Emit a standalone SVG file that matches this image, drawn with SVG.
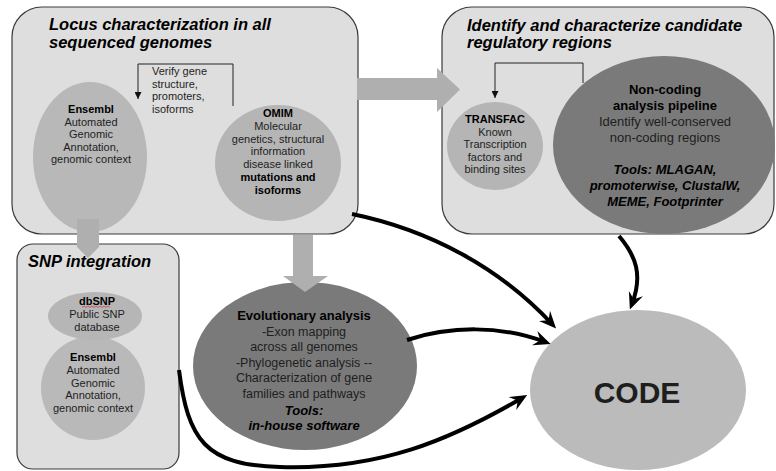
<svg xmlns="http://www.w3.org/2000/svg" width="776" height="471" viewBox="0 0 776 471">
<style>
.box{fill:#dedede;stroke:#3a3a3a;stroke-width:1.2}
.lt{fill:#b8b8b8}
.dk{fill:#7a7a7a}
.garrow{fill:#afafaf}
.curve{fill:none;stroke:#000;stroke-width:4}
.thin{fill:none;stroke:#222;stroke-width:1}
text{font-family:"Liberation Sans",Arial,sans-serif;fill:#1e1e1e}
.title{font-size:16.5px;font-weight:bold;font-style:italic;fill:#000}
.s11{font-size:11px;text-anchor:middle}
.s13{font-size:13px;text-anchor:middle}
.s125{font-size:12.5px;text-anchor:middle}
.b{font-weight:bold;fill:#000}
.bi{font-weight:bold;font-style:italic;fill:#000}
</style>
<defs>
<marker id="ah" viewBox="-17 -8 17 16" refX="-6" refY="0" markerWidth="17" markerHeight="16" markerUnits="userSpaceOnUse" orient="auto"><path d="M0,0 L-17,-7.5 L-11,0 L-17,7.5 Z" fill="#000"/></marker>
<marker id="sh" viewBox="0 0 8 8" refX="8" refY="4" markerWidth="7" markerHeight="7" markerUnits="userSpaceOnUse" orient="auto"><path d="M0,0 L8,4 L0,8 Z" fill="#111"/></marker>
</defs>
<rect width="776" height="471" fill="#fff"/>

<g id="locus-box">
<rect class="box" x="12" y="7" width="346" height="227" rx="30"/>
<text class="title" x="49" y="30">Locus characterization in all</text>
<text class="title" x="49" y="48">sequenced genomes</text>
</g>

<g id="ensembl-top">
<ellipse class="lt" cx="90" cy="157" rx="57" ry="75"/>
<text class="s11" x="91" y="113"><tspan class="b">Ensembl</tspan><tspan x="91" dy="12.5">Automated</tspan><tspan x="91" dy="12.5">Genomic</tspan><tspan x="91" dy="12.5">Annotation,</tspan><tspan x="91" dy="12.5">genomic context</tspan></text>
</g>

<g id="omim">
<ellipse cx="278" cy="163" rx="63" ry="58" fill="#b5b5b5"/>
<text class="s11" x="278" y="117"><tspan class="b">OMIM</tspan><tspan x="278" dy="12.8">Molecular</tspan><tspan x="278" dy="12.8">genetics, structural</tspan><tspan x="278" dy="12.8">information</tspan><tspan x="278" dy="12.8">disease linked</tspan><tspan x="278" dy="12.8" class="b">mutations and</tspan><tspan x="278" dy="12.8" class="b">isoforms</tspan></text>
</g>

<g id="verify-label">
<text font-size="11" x="152" y="75">Verify gene<tspan x="152" dy="12.7">structure,</tspan><tspan x="152" dy="12.7">promoters,</tspan><tspan x="152" dy="12.7">isoforms</tspan></text>
</g>

<g id="regulatory-box">
<rect class="box" x="442" y="7" width="332" height="227" rx="30"/>
<text class="title" x="467" y="31">Identify and characterize candidate</text>
<text class="title" x="467" y="48">regulatory regions</text>
</g>

<g id="transfac">
<ellipse cx="495" cy="146" rx="48" ry="44" fill="#b5b5b5"/>
<text class="s11" x="495" y="123"><tspan class="b">TRANSFAC</tspan><tspan x="495" dy="12.6">Known</tspan><tspan x="495" dy="12.6">Transcription</tspan><tspan x="495" dy="12.6">factors and</tspan><tspan x="495" dy="12.6">binding sites</tspan></text>
</g>

<g id="noncoding">
<ellipse class="dk" cx="664" cy="145" rx="111" ry="89"/>
<text class="s13" x="665" y="94"><tspan class="b">Non-coding</tspan><tspan x="665" dy="16" class="b">analysis pipeline</tspan><tspan x="665" dy="16">Identify well-conserved</tspan><tspan x="665" dy="16">non-coding regions</tspan><tspan x="665" dy="32" class="bi">Tools: MLAGAN,</tspan><tspan x="665" dy="16" class="bi">promoterwise, ClustalW,</tspan><tspan x="665" dy="16" class="bi">MEME, Footprinter</tspan></text>
</g>

<g id="snp-box">
<rect class="box" x="17" y="244" width="162" height="225" rx="16"/>
<text class="title" x="28" y="267">SNP integration</text>
</g>

<g id="ensembl-snp">
<ellipse cx="93" cy="388" rx="52" ry="52" fill="#b9b9b9"/>
<text class="s11" x="93" y="361"><tspan class="b">Ensembl</tspan><tspan x="93" dy="12.8">Automated</tspan><tspan x="93" dy="12.8">Genomic</tspan><tspan x="93" dy="12.8">Annotation,</tspan><tspan x="93" dy="12.8">genomic context</tspan></text>
</g>

<g id="dbsnp">
<ellipse cx="95" cy="316" rx="47" ry="24" fill="#b6b6b6"/>
<text class="s11" x="97" y="305"><tspan class="b">dbSNP</tspan><tspan x="97" dy="12.8">Public SNP</tspan><tspan x="97" dy="12.8">database</tspan></text>
<path d="M82,307.5 l2,-1.5 l2,1.5 l2,-1.5 l2,1.5 l2,-1.5 l2,1.5 l2,-1.5 l2,1.5 l2,-1.5 l2,1.5 l2,-1.5 l2,1.5 l2,-1.5 l2,1.5" fill="none" stroke="#d04040" stroke-width="0.8"/>
</g>

<g id="evolutionary">
<ellipse class="dk" cx="305" cy="366" rx="112" ry="84"/>
<text class="s125" x="304" y="320"><tspan class="b" font-size="13">Evolutionary analysis</tspan><tspan x="304" dy="15.5">-Exon mapping</tspan><tspan x="304" dy="15.5">across all genomes</tspan><tspan x="304" dy="15.5">-Phylogenetic analysis --</tspan><tspan x="304" dy="15.5">Characterization of gene</tspan><tspan x="304" dy="15.5">families and pathways</tspan><tspan x="304" dy="17" class="bi" font-size="13">Tools:</tspan><tspan x="304" dy="15.5" class="bi" font-size="13">in-house software</tspan></text>
</g>

<g id="code">
<ellipse cx="638" cy="390" rx="108" ry="80" fill="#bbbbbb"/>
<text x="637" y="403" font-family="'DejaVu Sans',Verdana,sans-serif" font-size="30" font-weight="bold" text-anchor="middle" fill="#000">CODE</text>
</g>

<g id="connectors">
<polygon class="garrow" points="357,78 437,78 437,68 460,89.5 437,112 437,100 357,100"/>
<polygon class="garrow" points="77,219 99,219 99,247 88,258 77,247"/>
<polygon class="garrow" points="293,235 313,235 313,276 328,276 305,292 283,276 293,276"/>
<path class="thin" d="M233,106 V64 H138 V99" marker-end="url(#sh)"/>
<path class="thin" d="M583,83 V63 H495 V98" marker-end="url(#sh)"/>
<path class="curve" d="M352,214 C430,230 500,268 552,324" marker-end="url(#ah)"/>
<path class="curve" d="M619,236 C636,256 643,275 632,304" marker-end="url(#ah)"/>
<path class="curve" d="M407,340 C450,326 500,325 545,342" marker-end="url(#ah)"/>
<path class="curve" d="M179,370 C188,440 205,465 280,467 C380,470 450,440 522,398" marker-end="url(#ah)"/>
</g>
</svg>
